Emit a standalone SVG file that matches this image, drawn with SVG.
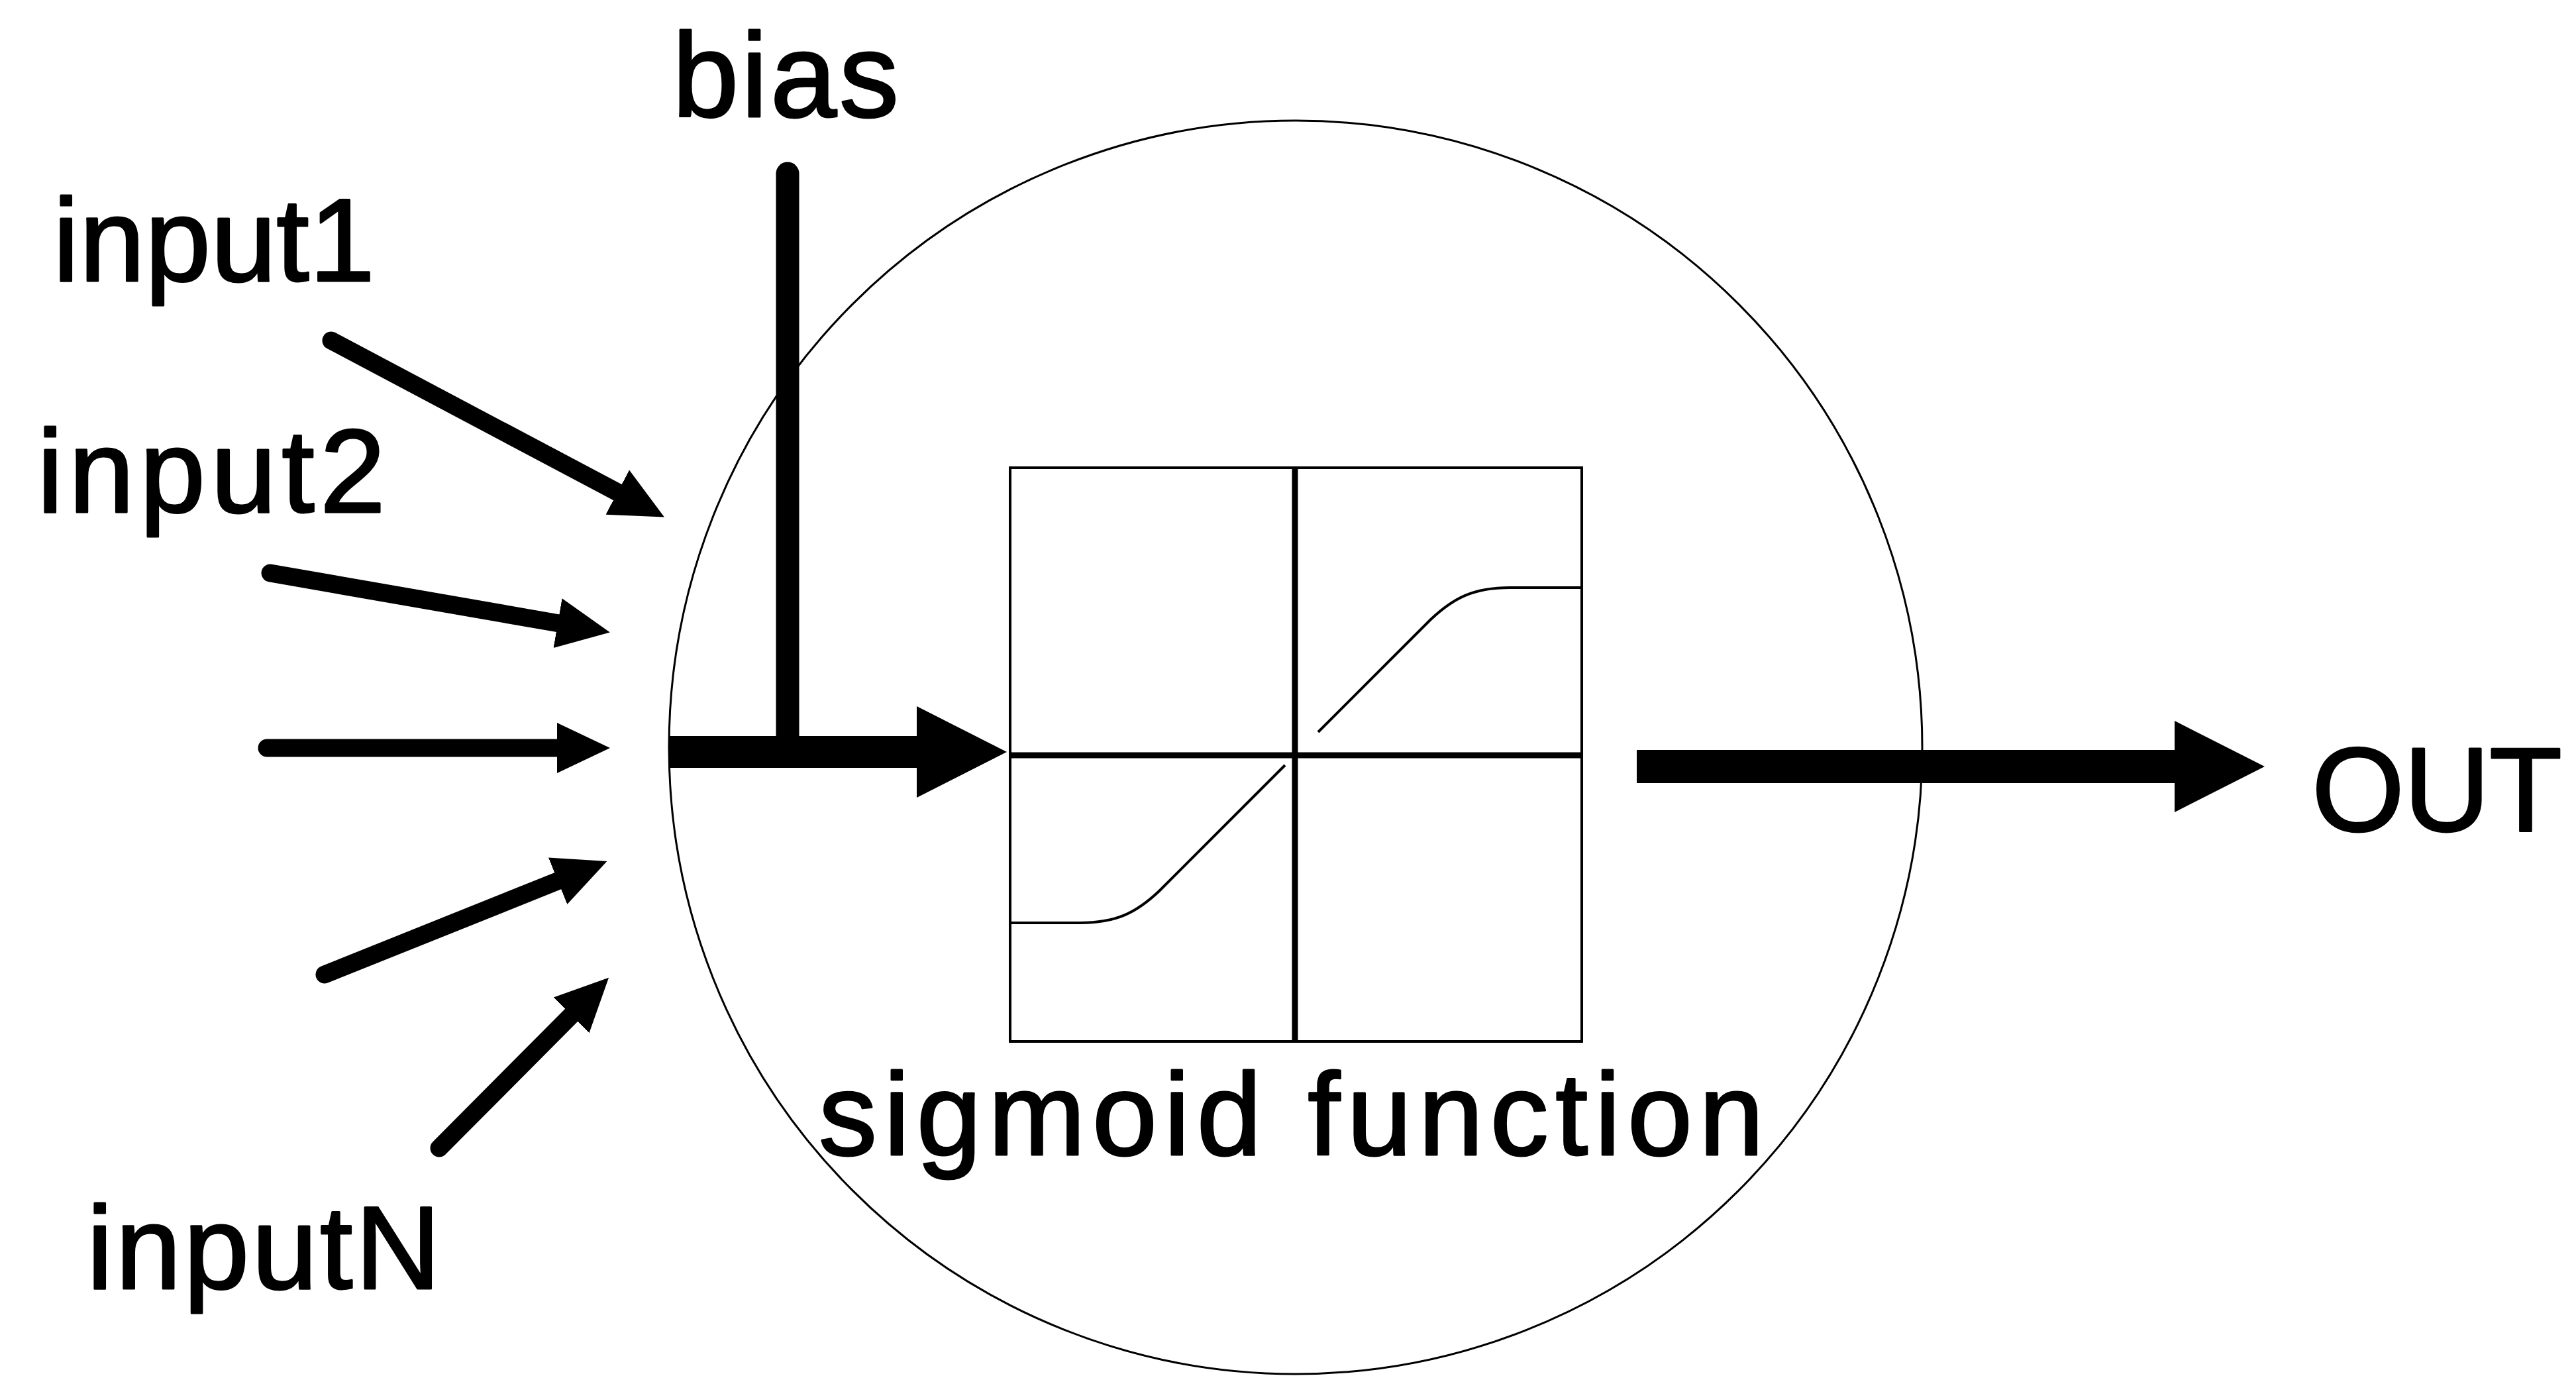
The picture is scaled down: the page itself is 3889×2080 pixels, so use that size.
<svg xmlns="http://www.w3.org/2000/svg" width="3889" height="2080" viewBox="0 0 3889 2080">
<style>
.lbl{font-family:"Liberation Sans",Arial,sans-serif;fill:#000;stroke:#000;stroke-width:3;stroke-linejoin:round}
.in{stroke:#000;stroke-width:27;stroke-linecap:round;fill:none}
.thin{stroke:#000;fill:none}
</style>
<defs>
<marker id="hs" markerUnits="userSpaceOnUse" orient="auto" markerWidth="90" markerHeight="90" viewBox="0 -45 90 90" refX="2" refY="0"><path d="M0,-38 L80,0 L0,38 z" fill="#000"/></marker>
<marker id="hl" markerUnits="userSpaceOnUse" orient="auto" markerWidth="150" markerHeight="150" viewBox="0 -75 150 150" refX="2" refY="0"><path d="M0,-69 L136,0 L0,69 z" fill="#000"/></marker>
</defs>
<rect width="3889" height="2080" fill="#fff"/>
<g id="neuron">
<circle cx="1956" cy="1128" r="946" class="thin" stroke-width="3"/>
</g>
<g id="sigmoid">
<rect x="1525" y="706" width="863" height="866" class="thin" stroke-width="4"/>
<line x1="1525" y1="1140" x2="2388" y2="1140" stroke="#000" stroke-width="9"/>
<line x1="1955" y1="706" x2="1955" y2="1572" stroke="#000" stroke-width="9"/>
<path d="M1525,1393 H1630 C1685,1393 1715,1378 1750,1345 L1940,1155" class="thin" stroke-width="4"/>
<path d="M1990,1105 L2160,935 C2195,902 2225,887 2280,887 H2388" class="thin" stroke-width="4"/>
<text class="lbl" x="1236" y="1743" font-size="176" textLength="1427" lengthAdjust="spacing">sigmoid function</text>
</g>
<g id="labels">
<text id="lbl-bias" class="lbl" x="1015" y="176" font-size="180" textLength="342" lengthAdjust="spacing">bias</text>
<text id="lbl-input1" class="lbl" x="80" y="424" font-size="178" textLength="486" lengthAdjust="spacing">input1</text>
<text id="lbl-input2" class="lbl" x="56" y="773" font-size="178" textLength="526" lengthAdjust="spacing">input2</text>
<text id="lbl-inputN" class="lbl" x="131" y="1945" font-size="178" textLength="534" lengthAdjust="spacing">inputN</text>
<text id="lbl-out" class="lbl" x="3490" y="1254" font-size="180" textLength="378" lengthAdjust="spacing">OUT</text>
</g>
<g id="connectors">
<line class="in" x1="500" y1="514" x2="934" y2="744" marker-end="url(#hs)"/>
<line class="in" x1="408" y1="865" x2="844" y2="941" marker-end="url(#hs)"/>
<line class="in" x1="403" y1="1129" x2="843" y2="1129" marker-end="url(#hs)"/>
<line class="in" x1="490" y1="1471" x2="844" y2="1329" marker-end="url(#hs)"/>
<line class="in" x1="663" y1="1733" x2="864" y2="1531" marker-end="url(#hs)"/>
<line x1="1189" y1="262" x2="1189" y2="1125" stroke="#000" stroke-width="35" stroke-linecap="round"/>
<line x1="1010" y1="1135" x2="1386" y2="1135" stroke="#000" stroke-width="48" marker-end="url(#hl)"/>
<line x1="2471" y1="1157" x2="3285" y2="1157" stroke="#000" stroke-width="50" marker-end="url(#hl)"/>
</g>
</svg>
